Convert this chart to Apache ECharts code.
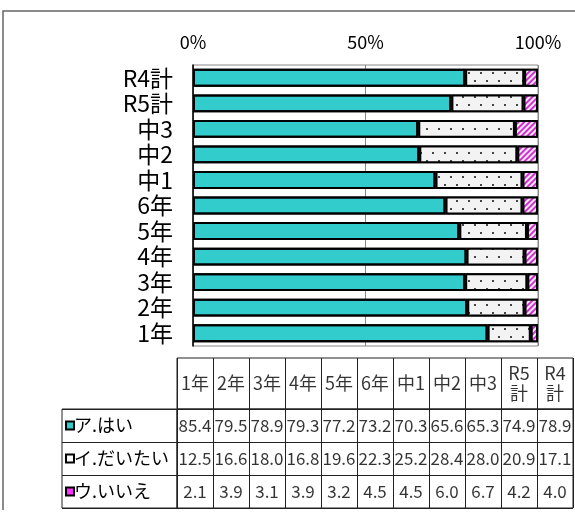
<!DOCTYPE html>
<html>
<head>
<meta charset="utf-8">
<script src="https://cdn.jsdelivr.net/npm/echarts@6/dist/echarts.min.js"></script>
<style>
  html, body { margin: 0; padding: 0; background: #fff; }
  #chart { width: 575px; height: 512px; }
</style>
</head>
<body>
<div id="chart"></div>
<script>
// Grades, bottom to top on the bar axis and left to right in the table
const categories = ['1年', '2年', '3年', '4年', '5年', '6年', '中1', '中2', '中3', 'R5計', 'R4計'];
// Answer shares (%)
const hai    = [85.4, 79.5, 78.9, 79.3, 77.2, 73.2, 70.3, 65.6, 65.3, 74.9, 78.9];
const daitai = [12.5, 16.6, 18.0, 16.8, 19.6, 22.3, 25.2, 28.4, 28.0, 20.9, 17.1];
const iie    = [2.1, 3.9, 3.1, 3.9, 3.2, 4.5, 4.5, 6.0, 6.7, 4.2, 4.0];
const answerNames = ['ア.はい', 'イ.だいたい', 'ウ.いいえ'];
const answerValues = [hai, daitai, iie];
const percentTicks = [0, 50, 100];

const FONT = '"Noto Sans CJK JP", "Noto Sans", sans-serif';
const TEAL = '#33cccc';
const DOT_BG = '#f3f3f3';
const PINK = '#cc33cc';
const PINK_BG = '#fbe6fb';

const chart = echarts.init(document.getElementById('chart'));

const decals = [
  { symbol: 'none' },
  { symbol: 'rect', symbolSize: 1, color: '#444', backgroundColor: DOT_BG,
    dashArrayX: [[2, 10], [0, 6, 2, 4]], dashArrayY: [2, 6] },
  { symbol: 'rect', symbolSize: 1, color: PINK, backgroundColor: PINK_BG,
    dashArrayX: [[1, 0]], dashArrayY: [1.5, 2], rotation: -Math.PI / 4 }
];
const fills = [TEAL, DOT_BG, PINK_BG];

const barSeries = answerValues.map((vals, i) => ({
  name: answerNames[i],
  type: 'bar',
  stack: 'total',
  xAxisIndex: 0,
  yAxisIndex: 0,
  barWidth: '70%',
  data: vals,
  itemStyle: { color: fills[i], borderColor: '#000', borderWidth: 2, decal: decals[i] },
  emphasis: { disabled: true }
}));

// table header cells
const headerSeries = {
  type: 'scatter',
  xAxisIndex: 1,
  yAxisIndex: 1,
  symbolSize: 1,
  itemStyle: { color: 'rgba(0,0,0,0)' },
  data: categories.map(c => [c, 'h']),
  label: {
    show: true,
    position: 'inside',
    color: '#000',
    fontFamily: FONT,
    fontSize: 18,
    lineHeight: 20,
    formatter: p => p.value[0].replace(/^(R\d)/, '$1\n')
  },
  silent: true
};

// table value cells
const cellData = [];
answerValues.forEach((vals, r) => {
  vals.forEach((v, c) => cellData.push([categories[c], answerNames[r], v]));
});
const cellSeries = {
  type: 'scatter',
  xAxisIndex: 2,
  yAxisIndex: 2,
  symbolSize: 1,
  itemStyle: { color: 'rgba(0,0,0,0)' },
  data: cellData,
  label: {
    show: true,
    position: 'inside',
    color: '#000',
    fontFamily: FONT,
    fontSize: 17,
    formatter: p => p.value[2].toFixed(1)
  },
  silent: true
};

const tableLine = { show: true, lineStyle: { color: '#222', width: 1 } };
const markerKeys = ['m0', 'm1', 'm2'];
const markerFill = [TEAL, '#ffffff', '#ff33ff'];
const richMarkers = {};
markerKeys.forEach((k, i) => {
  richMarkers[k] = { width: 6, height: 6, backgroundColor: markerFill[i],
    borderColor: '#000', borderWidth: 2 };
});
richMarkers.t = { fontFamily: FONT, fontSize: 18, color: '#000', padding: [0, 0, 0, 1] };

const option = {
  animation: false,
  backgroundColor: '#fff',
  grid: [
    { left: 193, right: 37, top: 65, bottom: 166, show: true, borderColor: '#888', borderWidth: 1 },
    { left: 177, right: 2, top: 358, height: 51, show: true, borderColor: '#222', borderWidth: 1 },
    { left: 177, right: 2, top: 409, bottom: 4, show: true, borderColor: '#222', borderWidth: 1 },
    { left: 62, width: 115, top: 409, bottom: 4, show: true, borderColor: '#222', borderWidth: 1 }
  ],
  xAxis: [
    {
      gridIndex: 0, type: 'value', position: 'top',
      min: percentTicks[0], max: percentTicks[percentTicks.length - 1], interval: 50,
      axisLine: { show: false }, axisTick: { show: false },
      splitLine: { show: true, lineStyle: { color: '#888', width: 1 } },
      axisLabel: { formatter: '{value}%', fontFamily: FONT, fontSize: 18, color: '#000', margin: 14 }
    },
    {
      gridIndex: 1, type: 'category', data: categories,
      axisLine: { show: false }, axisTick: { show: false }, axisLabel: { show: false },
      splitLine: tableLine
    },
    {
      gridIndex: 2, type: 'category', data: categories,
      axisLine: { show: false }, axisTick: { show: false }, axisLabel: { show: false },
      splitLine: tableLine
    },
    {
      gridIndex: 3, type: 'value', min: 0, max: 1,
      axisLine: { show: false }, axisTick: { show: false }, axisLabel: { show: false },
      splitLine: { show: false }
    }
  ],
  yAxis: [
    {
      gridIndex: 0, type: 'category', data: categories,
      axisLine: { show: true, lineStyle: { color: '#000', width: 1.5 } },
      axisTick: { show: false },
      axisLabel: { interval: 0, fontFamily: FONT, fontSize: 23, lineHeight: 23, color: '#000', margin: 20 }
    },
    {
      gridIndex: 1, type: 'category', data: ['h'],
      axisLine: { show: false }, axisTick: { show: false }, axisLabel: { show: false },
      splitLine: { show: false }
    },
    {
      gridIndex: 2, type: 'category', data: answerNames, inverse: true,
      axisLine: { show: false }, axisTick: { show: false }, axisLabel: { show: false },
      splitLine: tableLine
    },
    {
      gridIndex: 3, type: 'category', data: answerNames, inverse: true,
      axisLine: { show: false }, axisTick: { show: false },
      splitLine: tableLine,
      axisLabel: {
        inside: true, margin: 5, align: 'left',
        formatter: (v, i) => '{' + markerKeys[i] + '|}{t|' + v + '}',
        rich: richMarkers
      }
    }
  ],
  graphic: [
    {
      type: 'polyline', silent: true,
      shape: { points: [[575, 11], [3, 11], [3, 510]] },
      style: { stroke: '#666', lineWidth: 1.5, fill: null }
    }
  ],
  series: [...barSeries, headerSeries, cellSeries]
};

chart.setOption(option);
</script>
</body>
</html>
